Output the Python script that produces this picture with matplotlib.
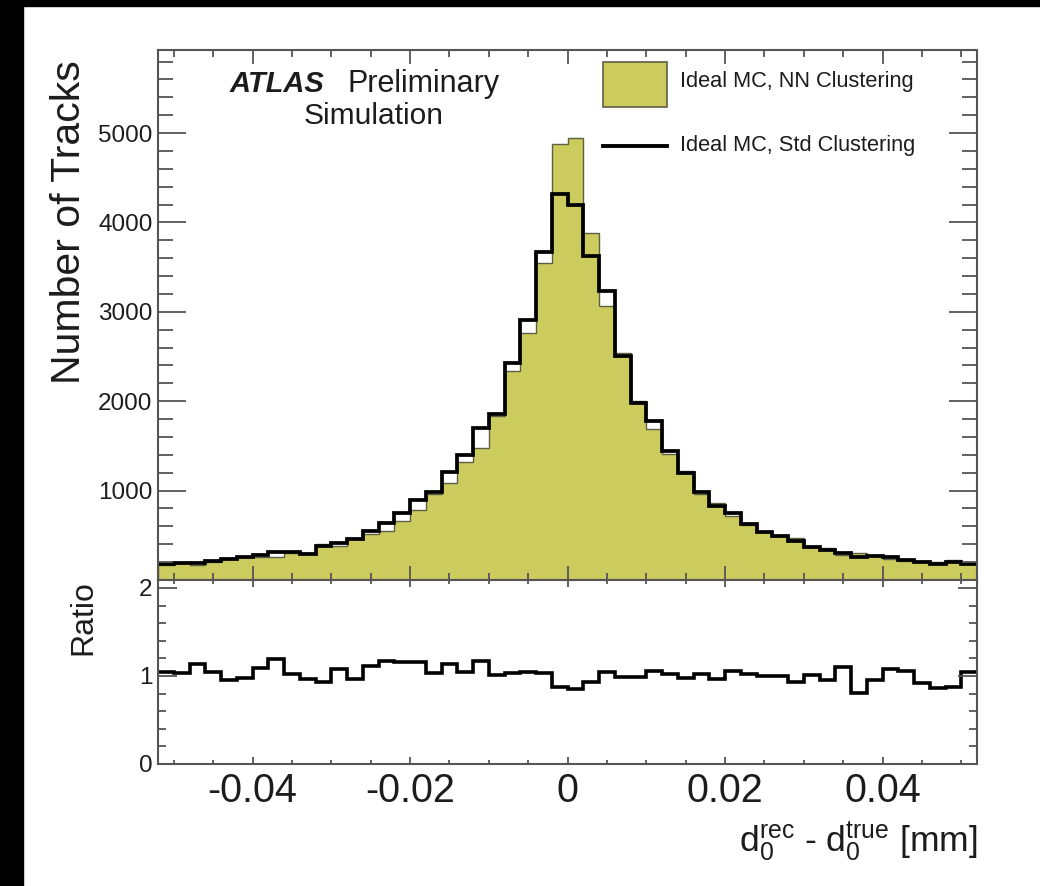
import numpy as np
import matplotlib
matplotlib.use("Agg")
import matplotlib.pyplot as plt
from matplotlib.patches import Rectangle
from matplotlib.lines import Line2D
from matplotlib.ticker import MultipleLocator, FuncFormatter

plt.rcParams['font.family'] = ['Liberation Sans', 'DejaVu Sans']
plt.rcParams['mathtext.fontset'] = 'custom'
plt.rcParams['mathtext.rm'] = 'Liberation Sans'
plt.rcParams['mathtext.it'] = 'Liberation Sans:italic'

# ---------------- data ----------------
bin_lo, bin_hi, bin_w = -0.052, 0.052, 0.002
nn_counts = [172, 188, 172, 202, 245, 258, 260, 262, 302, 297,
             400, 380, 472, 515, 550, 655, 787, 960, 1090, 1317,
             1478, 1830, 2340, 2760, 3550, 4880, 4950, 3880, 3065, 2545,
             2005, 1695, 1415, 1220, 960, 860, 715, 612, 537, 495,
             465, 368, 358, 276, 305, 279, 237, 209, 216, 202,
             225, 175]
std_counts = [180, 192, 195, 212, 234, 253, 283, 310, 308, 288,
              375, 410, 458, 545, 640, 750, 895, 990, 1205, 1400,
              1705, 1860, 2425, 2910, 3670, 4320, 4200, 3630, 3230, 2510,
              1975, 1780, 1440, 1195, 980, 830, 755, 625, 537, 495,
              435, 372, 340, 303, 258, 265, 255, 222, 198, 174,
              198, 184]
ratio_vals = [1.04, 1.03, 1.14, 1.05, 0.955, 0.98, 1.09, 1.19, 1.02, 0.97,
              0.935, 1.08, 0.97, 1.11, 1.17, 1.16, 1.16, 1.03, 1.14, 1.05,
              1.17, 1.01, 1.03, 1.05, 1.03, 0.87, 0.85, 0.936, 1.05, 0.985,
              0.985, 1.06, 1.02, 0.98, 1.02, 0.966, 1.057, 1.02, 1.0, 1.0,
              0.936, 1.01, 0.95, 1.10, 0.81, 0.95, 1.076, 1.06, 0.917, 0.86,
              0.88, 1.05]
label_nn = "Ideal MC, NN Clustering"
label_std = "Ideal MC, Std Clustering"

edges = np.round(np.arange(bin_lo, bin_hi + bin_w / 2, bin_w), 4)

# ---------------- style ----------------
W, H = 1040, 886
fill_c = '#cccc5e'
fill_edge = '#5e5e45'
frame_c = '#555555'
txt_c = '#1c1c1c'

def fx(px):
    return px / W

def fy(py):
    return 1 - py / H

fig = plt.figure(figsize=(W / 100, H / 100), dpi=100)
fig.patch.set_facecolor('white')
fig.add_artist(Rectangle((0, 0), fx(23), 1, transform=fig.transFigure, color='black', zorder=0))
fig.add_artist(Rectangle((0, fy(6)), 1, 6 / H, transform=fig.transFigure, color='black', zorder=0))

L, R = 158, 977
ax = fig.add_axes([fx(L), fy(580), (R - L) / W, (580 - 50) / H])
rax = fig.add_axes([fx(L), fy(764), (R - L) / W, (764 - 580) / H], sharex=ax)

ax.stairs(nn_counts, edges, fill=True, facecolor=fill_c, edgecolor=fill_edge, lw=1.0, baseline=0)
ax.stairs(std_counts, edges, baseline=None, color='black', lw=2.7)
rax.stairs(ratio_vals, edges, baseline=None, color='black', lw=2.6)

ax.set_xlim(bin_lo, bin_hi)
ax.set_ylim(0, 5930)
rax.set_ylim(0, 2.09)

for a in (ax, rax):
    for s in a.spines.values():
        s.set_color(frame_c)
        s.set_linewidth(1.5)
    a.xaxis.set_major_locator(MultipleLocator(0.02))
    a.xaxis.set_minor_locator(MultipleLocator(0.005))

ax.yaxis.set_major_locator(MultipleLocator(1000))
ax.yaxis.set_minor_locator(MultipleLocator(200))
ax.yaxis.set_major_formatter(FuncFormatter(lambda v, p: '' if v == 0 else f'{int(v)}'))
rax.yaxis.set_major_locator(MultipleLocator(1))
rax.yaxis.set_minor_locator(MultipleLocator(0.2))
rax.yaxis.set_major_formatter(FuncFormatter(lambda v, p: f'{int(round(v))}'))
rax.xaxis.set_major_formatter(FuncFormatter(lambda v, p: '0' if abs(v) < 1e-9 else f'{v:.2f}'))

ax.tick_params(axis='both', which='both', direction='in', top=True, right=True,
               color=frame_c, width=1.3, labelcolor=txt_c)
ax.tick_params(axis='x', which='major', length=10, labelbottom=False)
ax.tick_params(axis='x', which='minor', length=5)
ax.tick_params(axis='y', which='major', length=20, labelsize=17.5, pad=4)
ax.tick_params(axis='y', which='minor', length=11)

rax.tick_params(axis='both', which='both', direction='in', top=True, right=True,
                color=frame_c, width=1.3, labelcolor=txt_c)
rax.tick_params(axis='x', which='major', length=5, labelsize=28.5, pad=6)
rax.tick_params(axis='x', which='minor', length=3)
rax.tick_params(axis='y', which='major', length=14, labelsize=17.5, pad=4)
rax.tick_params(axis='y', which='minor', length=6)

# axis titles
fig.text(fx(69), fy(60), 'Number of Tracks', rotation=90, ha='center', va='top',
         fontsize=29.5, color=txt_c)
fig.text(fx(83), fy(580), 'Ratio', rotation=90, ha='center', va='top',
         fontsize=23, color=txt_c)
fig.text(fx(977), fy(852), r'$\mathregular{d_{0}^{rec}}$ - $\mathregular{d_{0}^{true}}$ [mm]',
         ha='right', va='baseline', fontsize=25.5, color=txt_c)

# ATLAS label
fig.text(fx(230), fy(92), 'ATLAS', fontsize=21, weight='bold', style='italic',
         ha='left', va='baseline', color=txt_c)
fig.text(fx(347), fy(92), 'Preliminary', fontsize=22, ha='left', va='baseline', color=txt_c)
fig.text(fx(374), fy(124), 'Simulation', fontsize=21.5, ha='center', va='baseline', color=txt_c)

# legend
fig.add_artist(Rectangle((fx(603), fy(107)), 64 / W, 45 / H, transform=fig.transFigure,
                         facecolor=fill_c, edgecolor=fill_edge, lw=1.2))
fig.add_artist(Line2D([fx(603), fx(667)], [fy(146), fy(146)], transform=fig.transFigure,
                      color='black', lw=2.8))
fig.text(fx(680), fy(82), label_nn, fontsize=15.7, ha='left', va='center', color=txt_c)
fig.text(fx(680), fy(146), label_std, fontsize=15.7, ha='left', va='center', color=txt_c)

fig.savefig('out.png', dpi=100, facecolor='white')
